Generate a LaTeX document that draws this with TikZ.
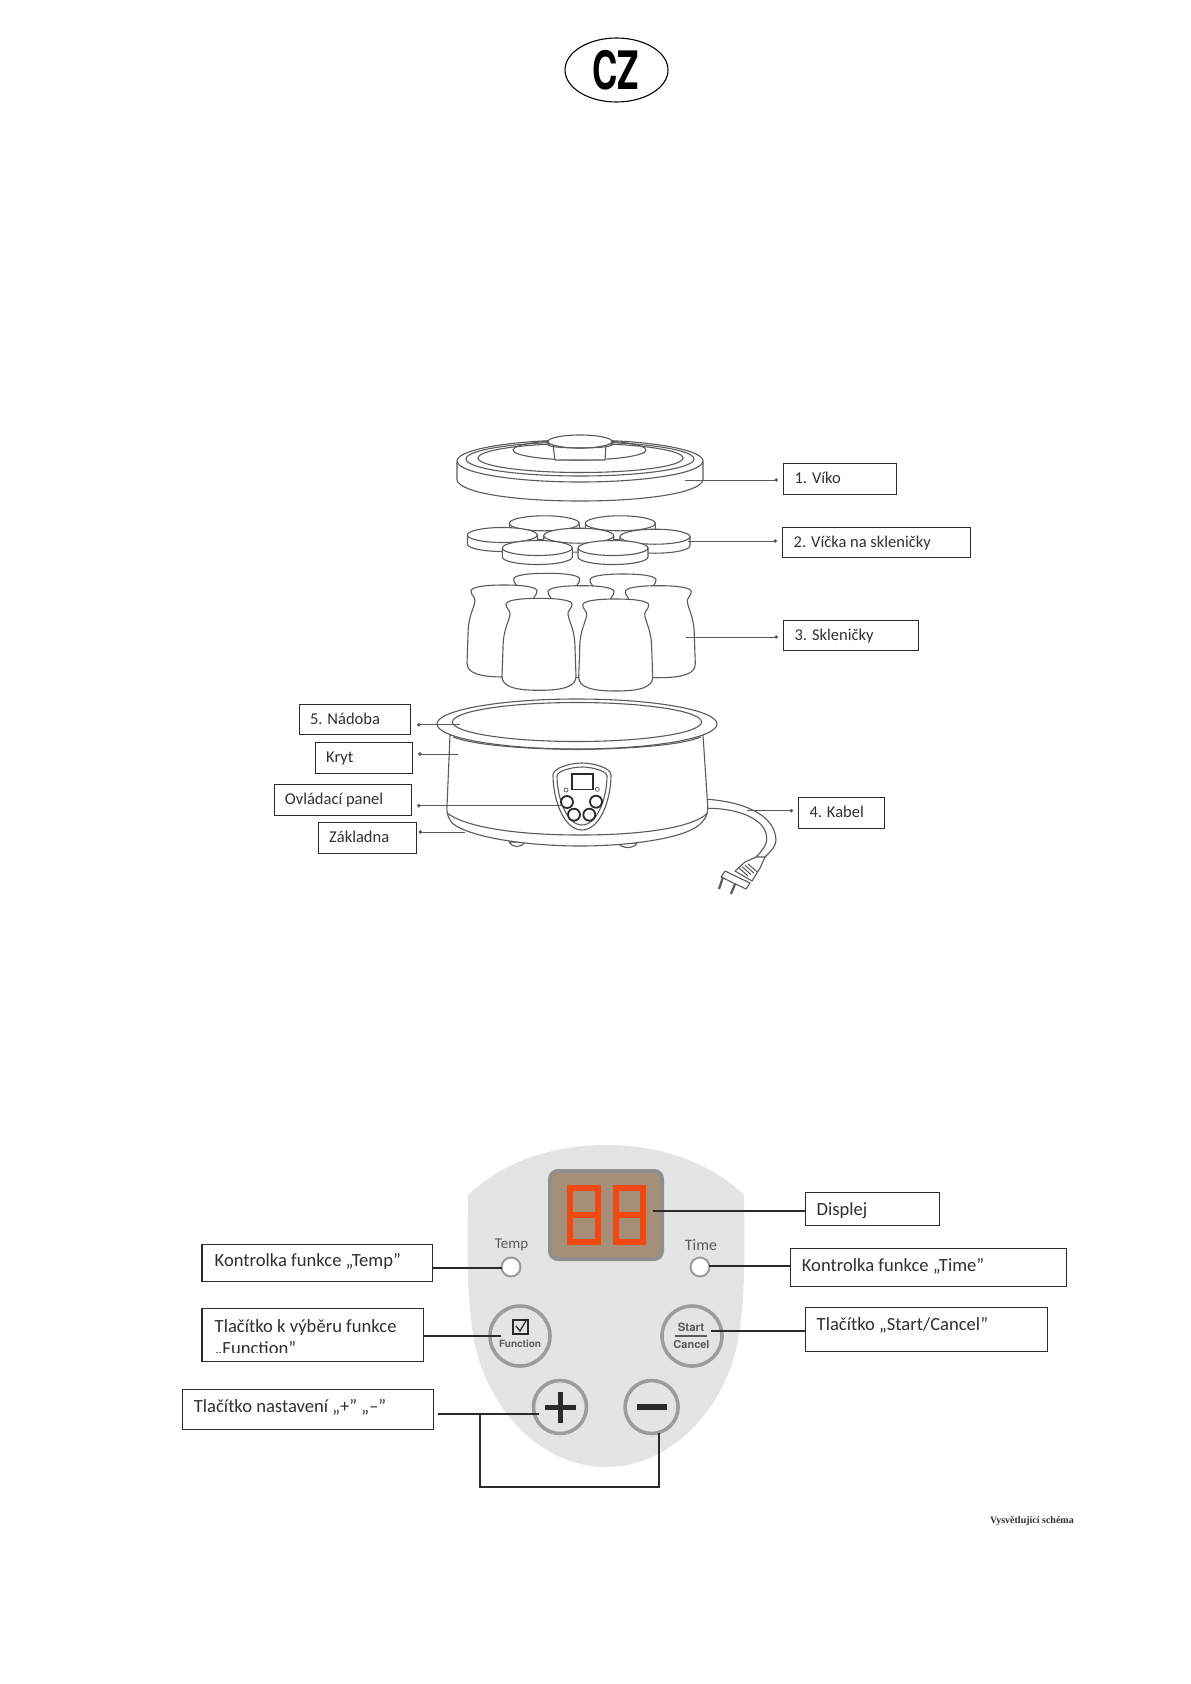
\documentclass[tikz,border=0pt]{standalone}
\usepackage{fontspec}
\setmainfont{Carlito}
\newfontfamily\heros{TeX Gyre Heros}
\newfontfamily\serifb{Liberation Serif}
\usetikzlibrary{arrows.meta,shapes.geometric}
\definecolor{art}{HTML}{5A5A5A}
\definecolor{boxline}{HTML}{2A2A2A}
\definecolor{txt}{HTML}{303030}
\definecolor{panelgray}{HTML}{E4E4E4}
\definecolor{ringgray}{HTML}{9C9C9C}
\definecolor{dispedge}{HTML}{8F8F8F}
\definecolor{dispfill}{HTML}{A68F78}
\definecolor{seg}{HTML}{F04A12}
\tikzset{
  lineart/.style={draw=art,line width=1.1pt,fill=white,line join=round},
  lineopen/.style={draw=art,line width=1.1pt,line join=round},
  upbox/.style={draw=boxline,line width=1.1pt,fill=white,inner sep=0pt},
  lowbox/.style={draw=boxline,line width=1.3pt,fill=white,inner sep=0pt},
  uptext/.style={anchor=base west,inner sep=0pt,text=txt,font=\fontsize{16.5}{19}\selectfont},
  lowtext/.style={anchor=base west,inner sep=0pt,text=txt,font=\fontsize{18.6}{22}\selectfont},
  leader/.style={draw=art,line width=1pt,-{Circle[length=3.5pt]},shorten >=5pt},
  wire/.style={draw=boxline,line width=1.8pt},
  ringbtn/.style={circle,draw=ringgray,line width=3.6pt,fill=panelgray,inner sep=0pt},
  ledring/.style={circle,draw=ringgray,line width=2pt,fill=white,inner sep=0pt,minimum size=19pt},
  panelsmall/.style={inner sep=0pt,text=art,font=\fontsize{15}{17}\selectfont},
  btntext/.style={inner sep=0pt,text=art,font=\heros\bfseries\fontsize{10}{12}\selectfont},
  digit/.style={draw=seg,line width=6pt,fill=dispfill},
  ctrl/.style={draw=boxline,line width=1.8pt,fill=white,circle,inner sep=0pt}
}
\newcommand\lblbox[6]{\node[#6,anchor=north west,minimum width={(#4-#2)*1pt},minimum height={(#5-#3)*1pt}] (#1) at (#2,#3) {};}
\newcommand\capdisc[2]{%
  \draw[lineart,shift={(#1,#2)}] (-35,0) -- (-35,9) arc[start angle=180,end angle=0,x radius=35,y radius=7.5] -- (35,0) arc[start angle=360,end angle=180,x radius=35,y radius=7.5] -- cycle;
  \draw[lineopen,shift={(#1,#2)}] (-35,0) arc[start angle=180,end angle=0,x radius=35,y radius=7.5];
}
\newcommand\jar[2]{%
  \draw[lineart,shift={(#1,#2)}] (-33,6) .. controls (-33,2) and (-20,0) .. (0,0) .. controls (20,0) and (33,2) .. (33,6) .. controls (33,10) and (29,12) .. (29,15) .. controls (29,22) and (36,30) .. (36,50) -- (37,78) .. controls (37,88) and (25,92) .. (0,92) .. controls (-25,92) and (-37,88) .. (-37,78) -- (-36,50) .. controls (-36,30) and (-29,22) .. (-29,15) .. controls (-29,12) and (-33,10) .. (-33,6) -- cycle;
}
\begin{document}
\begin{tikzpicture}[x=1pt,y=-1pt]
\useasboundingbox (0,0) rectangle (1191,1684);
\fill[white] (0,0) rectangle (1191,1684);

% CZ badge
\node[draw=black,line width=1.1pt,ellipse,minimum width=103pt,minimum height=64pt,inner sep=0pt] (badge) at (616.5,70) {};
\node[inner sep=0pt,xscale=.66,font=\heros\bfseries\fontsize{53}{53}\selectfont] (cz) at (616,70) {CZ};

% ---------- Lid
\draw[lineart] (457,462) -- (457,480) .. controls (460,493) and (515,501) .. (580,501) .. controls (645,501) and (700,493) .. (703,480) -- (703,462) -- cycle;
\draw[lineart] (580,461) ellipse[x radius=123,y radius=21];
\draw[lineopen] (580,459) ellipse[x radius=114,y radius=17];
\draw[lineopen] (580.5,458) ellipse[x radius=102.5,y radius=14.5];
\draw[lineopen] (579.5,450) ellipse[x radius=66.5,y radius=10];
\draw[lineart] (553,445) -- (555,460) -- (605,460) -- (606,445) -- cycle;
\draw[lineart] (580,441.5) ellipse[x radius=32,y radius=6.5];
\draw[lineopen] (548,441.5) -- (548,445) .. controls (552,449) and (608,449) .. (612,445) -- (612,441.5);

% ---------- Jar lids
\capdisc{544.3}{523.3}
\capdisc{620.3}{523.3}
\capdisc{502.3}{535}
\capdisc{578.7}{535.7}
\capdisc{655}{536.7}
\capdisc{537.3}{548}
\capdisc{613}{548}

% ---------- Jars
\jar{546.7}{573.3}
\jar{623}{574}
\jar{581}{585.7}
\jar{504}{585}
\jar{658.3}{585.7}
\jar{539}{598.3}
\jar{615.7}{599}

% ---------- Base unit
\draw[lineart] (509,842) .. controls (512,848) and (522,848) .. (525,842) -- cycle;
\draw[lineart] (618,843) .. controls (622,849) and (634,849) .. (637,843) -- cycle;
% cable
\draw[lineopen] (707.7,799.3) .. controls (740,801.7) and (775,813) .. (776,840) .. controls (776,846) and (771,851) .. (765,857);
\draw[lineopen] (707.7,808.3) .. controls (733,808) and (768,817) .. (766.7,840) .. controls (766,846) and (762,851) .. (756,857);
% plug
\draw[lineart] (756,857) -- (765,857) -- (760,868) -- (752,881) -- (735,871) -- (745,862) -- cycle;
\foreach \k in {0,1,2,3}{\draw[draw=art,line width=1pt] (739+\k*3,868+\k*-1.4) -- (748+\k*3,876+\k*-1.4);}
\draw[lineart] (725,871) -- (750,883) -- (746,889) -- (721,877) -- cycle;
\draw[draw=art,line width=2.2pt] (723,877) -- (719,889);
\draw[draw=art,line width=2.2pt] (735,884) -- (731,894);
% body
\draw[lineart] (450,735) -- (447,806) .. controls (446,815) and (450,820) .. (452,823) .. controls (470,838) and (530,846) .. (580,846) .. controls (630,846) and (690,838) .. (702,822) .. controls (706,818) and (708,814) .. (707.7,806) -- (703,735) -- cycle;
\draw[lineopen] (447,813) .. controls (470,830) and (530,835) .. (580,835) .. controls (630,835) and (690,830) .. (707.7,813);
\draw[lineart] (577,724) ellipse[x radius=140,y radius=25];
\draw[lineopen] (453,737) .. controls (480,747) and (540,749) .. (577,749.5) .. controls (614,749) and (675,747) .. (701,737);
\draw[lineart] (577,722) ellipse[x radius=124.5,y radius=19.5];
% small control panel
\draw[lineart] (553,775) .. controls (553,768) and (570,763) .. (582,763) .. controls (594,763) and (611,768) .. (611,775) .. controls (611,800) and (600,830) .. (582,830) .. controls (564,830) and (553,800) .. (553,775) -- cycle;
\draw[lineopen] (557,776) .. controls (557,771) and (572,767) .. (582,767) .. controls (592,767) and (607,771) .. (607,776) .. controls (607,798) and (597,825) .. (582,825) .. controls (567,825) and (557,798) .. (557,776) -- cycle;
\draw[draw=boxline,line width=1.6pt] (571.7,774) rectangle (592.7,789.3);
\draw[draw=art,line width=.7pt] (566,790) circle[radius=2];
\draw[draw=art,line width=.7pt] (597.3,789.3) circle[radius=2];

% leaders of the unit
\coordinate (a1) at (685,480);
\coordinate (a2) at (688,541);
\coordinate (a3) at (686,637);
\coordinate (a4) at (746.5,810.7);
\coordinate (a5) at (460,724.7);
\coordinate (a6) at (458,754);
\coordinate (a7) at (562.6,805.7);
\coordinate (a8) at (465,832);

\node[ctrl,minimum size=12pt] (bt1) at (567,802) {};
\node[ctrl,minimum size=12pt] (bt2) at (596,801.7) {};
\node[ctrl,minimum size=12pt] (bt3) at (574,814.7) {};
\node[ctrl,minimum size=12pt] (bt4) at (589.3,814.7) {};

% upper labels
\lblbox{b1}{783}{463}{896}{494}{upbox}
\node[uptext] (t1) at (794.4,483) {1. Víko};
\lblbox{b2}{782}{527}{970}{557}{upbox}
\node[uptext] (t2) at (793.5,547) {2. Víčka na skleničky};
\lblbox{b3}{783}{620}{918}{650}{upbox}
\node[uptext] (t3) at (794.4,640) {3. Skleničky};
\lblbox{b4}{798}{797}{884}{828}{upbox}
\node[uptext] (t4) at (809.3,817) {4. Kabel};
\lblbox{b5}{299}{704}{410}{734}{upbox}
\node[uptext] (t5) at (309.8,724) {5. Nádoba};
\lblbox{b6}{314.5}{742}{412}{773}{upbox}
\node[uptext] (t6) at (326,762) {Kryt};
\lblbox{b7}{273.5}{784}{411}{815}{upbox}
\node[uptext] (t7) at (284.7,804) {Ovládací panel};
\lblbox{b8}{318}{822}{415.5}{853}{upbox}
\node[uptext] (t8) at (329,842) {Základna};

\draw[leader] (a1) -- (a1 -| b1.west);
\draw[leader] (a2) -- (a2 -| b2.west);
\draw[leader] (a3) -- (a3 -| b3.west);
\draw[leader] (a4) -- (a4 -| b4.west);
\draw[leader,shorten >=6pt] (a5) -- (a5 -| b5.east);
\draw[leader] (a6) -- (a6 -| b6.east);
\draw[leader] (a7) -- (a7 -| b7.east);
\draw[leader,shorten >=2pt] (a8) -- (a8 -| b8.east);

% ---------- Large control panel
\fill[panelgray] (468,1195) .. controls (505,1160) and (555,1145) .. (606,1145) .. controls (657,1145) and (707,1160) .. (744,1195) .. controls (745,1260) and (745,1300) .. (738,1340) .. controls (725,1410) and (670,1467) .. (606,1467) .. controls (542,1467) and (487,1410) .. (474,1340) .. controls (467,1300) and (467,1260) .. (468,1195) -- cycle;
\draw[draw=dispedge,line width=4pt,fill=dispfill,rounded corners=8pt] (550,1171) rectangle (662,1259);
\draw[digit] (570,1188) rectangle (597.6,1242);
\draw[digit] (570,1215) -- (597.6,1215);
\draw[digit] (615.5,1188) rectangle (643,1242);
\draw[digit] (615.5,1215) -- (643,1215);
\coordinate (dispR) at (653.4,1211);

\node[panelsmall] (temptxt) at (511.5,1245) {Temp};
\node[panelsmall,font=\fontsize{16}{18}\selectfont] (timetxt) at (701,1245) {Time};
\node[ledring] (ledT) at (511,1267) {};
\node[ledring] (ledK) at (700,1267) {};

\node[ringbtn,minimum size=60pt] (fn) at (520,1336) {};
\draw[draw=boxline,line width=1.2pt] (513,1320) rectangle (528,1334);
\draw[draw=boxline,line width=1.3pt] (516,1326) -- (520,1331) -- (527,1319);
\node[btntext] (fntxt) at (520,1344) {Function};

\node[ringbtn,minimum size=60pt] (st) at (692,1336) {};
\node[btntext,font=\heros\bfseries\fontsize{11.5}{12}\selectfont] (sttxt) at (691,1327) {Start};
\draw[draw=art,line width=1.2pt] (675,1336) -- (707,1336);
\node[btntext,font=\heros\bfseries\fontsize{11}{12}\selectfont] (cntxt) at (691.5,1344.5) {Cancel};

\node[ringbtn,minimum size=53pt] (plus) at (560,1407) {};
\draw[draw=boxline,line width=5pt] (545,1407) -- (576,1407);
\draw[draw=boxline,line width=5pt] (560,1392) -- (560,1423);
\node[ringbtn,minimum size=53pt] (minus) at (651.6,1407) {};
\draw[draw=boxline,line width=6pt] (637,1407) -- (667,1407);

% lower labels
\lblbox{d1}{804.6}{1192}{939}{1225}{lowbox}
\node[lowtext] (e1) at (816.5,1215) {Displej};
\lblbox{d2}{201.4}{1244}{431.6}{1281}{lowbox}
\node[lowtext] (e2) at (214.5,1266) {Kontrolka funkce „Temp”};
\lblbox{d3}{790}{1248}{1065.6}{1286}{lowbox}
\node[lowtext] (e3) at (801.7,1271) {Kontrolka funkce „Time”};
\lblbox{d4}{201.4}{1308}{423}{1361}{lowbox}
\node[lowtext] (e4) at (214.5,1332) {Tlačítko k výběru funkce};
\begin{scope}
\clip (203,1336) rectangle (421,1352);
\node[lowtext] (e4b) at (214.5,1354) {„Function”};
\end{scope}
\lblbox{d5}{804.6}{1307}{1046.6}{1351}{lowbox}
\node[lowtext] (e5) at (816.5,1330) {Tlačítko „Start/Cancel”};
\lblbox{d6}{182}{1389}{433}{1429}{lowbox}
\node[lowtext] (e6) at (193.7,1412) {Tlačítko nastavení „+” „–”};

% lower connectors
\draw[wire] (dispR) -- (dispR -| d1.west);
\coordinate (w2) at (502,1268);
\draw[wire] (w2 -| d2.east) -- (w2);
\coordinate (w3) at (708.5,1266);
\draw[wire] (w3) -- (w3 -| d3.west);
\coordinate (w4) at (501,1336);
\draw[wire] (w4 -| d4.east) -- (w4);
\coordinate (w5) at (711,1331);
\draw[wire] (w5) -- (w5 -| d5.west);
\coordinate (w6s) at (438,1414);
\coordinate (w6) at (539,1414);
\draw[wire] (w6s) -- (w6);
\coordinate (j1) at (479.6,1414);
\coordinate (j2) at (659,1433);
\draw[wire] (j1) -- (479.6,1487) -- (659,1487) -- (j2);

\node[anchor=base east,inner sep=0pt,font=\serifb\bfseries\fontsize{10}{12}\selectfont,text=txt] (cap) at (1074,1523) {Vysvětlující schéma};
\end{tikzpicture}
\end{document}
